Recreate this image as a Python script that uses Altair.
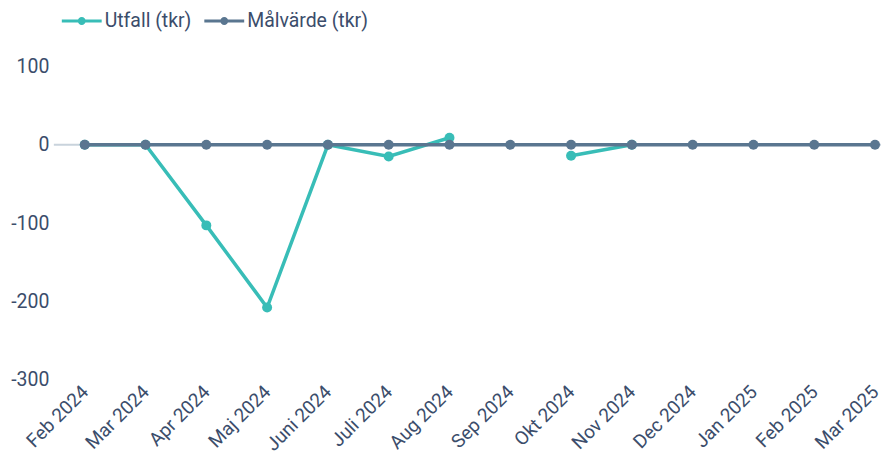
import json
import altair as alt
import pandas as pd

months = ["Feb 2024", "Mar 2024", "Apr 2024", "Maj 2024", "Juni 2024", "Juli 2024",
          "Aug 2024", "Sep 2024", "Okt 2024", "Nov 2024", "Dec 2024", "Jan 2025",
          "Feb 2025", "Mar 2025"]
utfall = [0, 0, -103, -208, 0, -15, 9, None, -14, 0, None, None, None, None]
malvarde = [0, 0, 0, 0, 0, 0, 0, 0, 0, 0, 0, 0, 0, 0]
series = ["Utfall (tkr)", "Målvärde (tkr)"]
colors = ["#38bdb7", "#5a7690"]
y_ticks = [-300, -200, -100, 0, 100]

rows = []
for i, (m, u, t) in enumerate(zip(months, utfall, malvarde)):
    rows.append({"idx": i, "month": m, "serie": series[0], "value": u})
    rows.append({"idx": i, "month": m, "serie": series[1], "value": t})
df = pd.DataFrame(rows)

TEXT = "#3b4d6b"
FONT = "Roboto"
W, H = 830, 314
STEP = 61.0
LEFT_OFF = 31.0
x_domain = [-LEFT_OFF / STEP, (W - LEFT_OFF) / STEP]

x_enc = alt.X("idx:Q", title=None,
              scale=alt.Scale(domain=x_domain, nice=False, zero=False),
              axis=alt.Axis(values=list(range(len(months))), labelAngle=-45,
                            labelAlign="right", labelBaseline="middle",
                            labelExpr=json.dumps(months) + "[datum.value]",
                            domain=False, ticks=False, grid=False,
                            labelFontSize=19, labelColor=TEXT, labelFont=FONT,
                            labelPadding=9, labelFlush=False, labelOverlap=False))
y_enc = alt.Y("value:Q", title=None,
              scale=alt.Scale(domain=[-300, 100], nice=False, zero=False),
              axis=alt.Axis(values=y_ticks, domain=False, ticks=False, grid=False,
                            labelExpr="replace(datum.label, '\u2212', '-')",
                            labelFontSize=19.5, labelColor=TEXT, labelFont=FONT,
                            labelPadding=5, minExtent=46, maxExtent=46))
color_scale = alt.Scale(domain=series, range=colors)

# legend symbol: a line with a dot, drawn from the symbol's nominal left edge
legend_symbol = ("M-1,-0.16H3V0.16H-1Z "
                 "M0.6,0A0.4,0.4 0 1,1 1.4,0A0.4,0.4 0 1,1 0.6,0Z")
legend = alt.Legend(title=None, orient="none", direction="horizontal",
                    legendX=8, legendY=-56,
                    symbolType=legend_symbol, symbolSize=400,
                    symbolStrokeWidth=0, symbolOpacity=1,
                    labelFontSize=19.5, labelColor=TEXT, labelFont=FONT,
                    labelOffset=23, columnPadding=12)

base = alt.Chart(df)

zero_rule = alt.Chart(pd.DataFrame({"v": [0]})).mark_rule(
    color="#c9d3dc", strokeWidth=2).encode(y=alt.Y("v:Q", scale=alt.Scale(domain=[-300, 100])))

def line_layer(k):
    return base.transform_filter(alt.datum.serie == series[k]).mark_line(
        strokeWidth=3.5, invalid="break-paths-filter-domains", color=colors[k]).encode(
        x=x_enc, y=y_enc)

def point_layer(k):
    return base.transform_filter(alt.datum.serie == series[k]).transform_filter(
        "isValid(datum.value)").mark_point(
        filled=True, size=100, opacity=1).encode(
        x=x_enc, y=y_enc,
        color=alt.Color("serie:N", scale=color_scale, sort=series, legend=legend))

chart = alt.layer(
    zero_rule,
    line_layer(0), point_layer(0),
    line_layer(1), point_layer(1),
).properties(width=W, height=H, padding={"top": 2, "left": 0, "right": 0, "bottom": 0}
).configure_view(stroke=None)

chart.save("out.html", embed_options={"renderer": "svg", "actions": False})
